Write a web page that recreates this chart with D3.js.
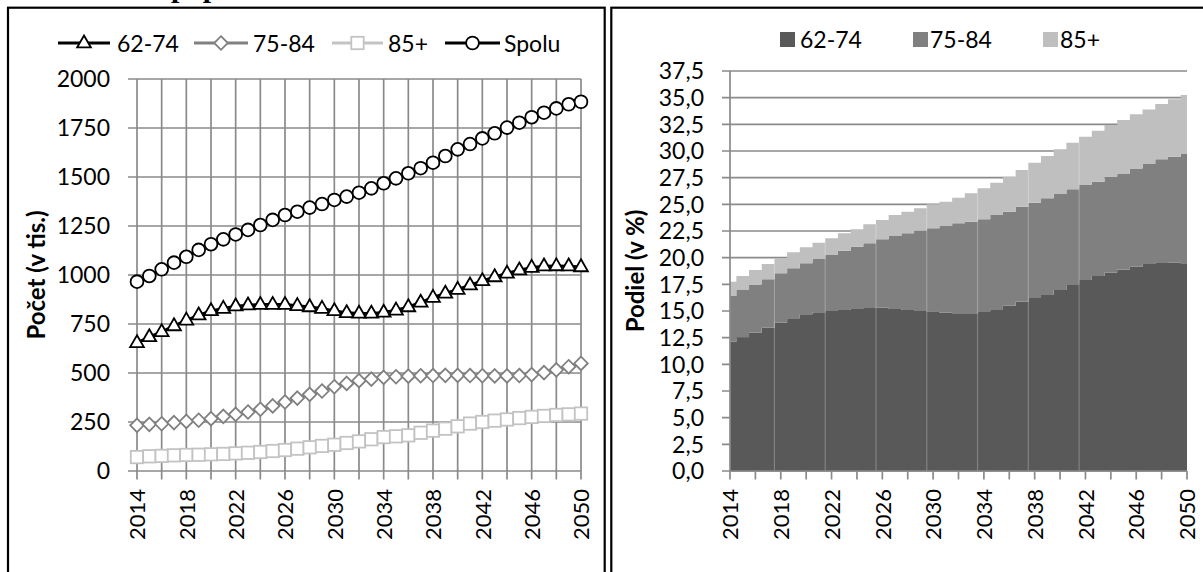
<!DOCTYPE html>
<html>
<head>
<meta charset="utf-8">
<script src="https://cdn.jsdelivr.net/npm/d3@7"></script>
<style>
  body { margin: 0; background: #fff; }
  svg { display: block; }
  text { font-family: Lato, "Open Sans", sans-serif; }
</style>
</head>
<body>
<svg id="chart" width="1203" height="572"></svg>
<script>
// ---------------- DATA ----------------
const years = [2014,2015,2016,2017,2018,2019,2020,2021,2022,2023,2024,2025,2026,2027,2028,2029,2030,2031,2032,2033,2034,2035,2036,2037,2038,2039,2040,2041,2042,2043,2044,2045,2046,2047,2048,2049,2050];
const xLabelYears = [2014,2018,2022,2026,2030,2034,2038,2042,2046,2050];
const xTickYears = [2014,2016,2018,2020,2022,2024,2026,2028,2030,2032,2034,2036,2038,2040,2042,2044,2046,2048,2050];
const yTicksLeft = [0,250,500,750,1000,1250,1500,1750,2000];
const yTicksRight = [0,2.5,5,7.5,10,12.5,15,17.5,20,22.5,25,27.5,30,32.5,35,37.5];
const lineSeriesNames = ["62-74","75-84","85+","Spolu"];
const areaSeriesNames = ["62-74","75-84","85+"];

// Left chart: count (thousands)
const count6274 = [655,685,711,741,770,796,818,830,842,847,850,850,850,844,838,830,818,808,805,805,810,821,838,861,886,907,927,949,971,991,1009,1026,1039,1046,1047,1046,1042];
const count7584 = [233,238,241,247,253,259,267,279,289,301,315,332,352,372,391,408,430,447,461,469,478,481,484,486,487,488,488,487,486,485,485,487,492,502,516,532,549];
const count85   = [71,75,77,80,82,83,85,87,90,93,97,102,107,114,121,128,134,143,151,162,173,177,182,195,206,216,228,242,250,257,263,270,276,281,286,289,293];
const countTotal = [966,995,1029,1063,1093,1128,1157,1182,1207,1230,1255,1281,1306,1323,1344,1362,1383,1400,1420,1442,1468,1493,1519,1545,1573,1607,1641,1668,1697,1723,1752,1777,1805,1828,1850,1871,1884];

// Right chart: share (%)
const share6274 = [12.12,12.53,12.97,13.44,13.90,14.31,14.69,14.88,15.00,15.09,15.19,15.28,15.31,15.19,15.09,15.00,14.94,14.84,14.78,14.78,14.90,15.16,15.50,15.87,16.28,16.50,16.97,17.44,17.90,18.28,18.60,18.90,19.15,19.40,19.56,19.53,19.47];
const share7584 = [4.28,4.44,4.47,4.53,4.63,4.69,4.78,5.00,5.25,5.56,5.84,6.06,6.41,6.84,7.19,7.53,7.81,8.13,8.44,8.59,8.70,8.84,8.81,8.91,8.87,9.06,9.00,8.97,8.91,8.84,8.99,9.00,9.22,9.38,9.66,9.94,10.25];
const share85   = [1.35,1.31,1.40,1.43,1.41,1.50,1.50,1.52,1.56,1.63,1.63,1.79,1.81,1.97,2.03,2.10,2.25,2.28,2.40,2.66,2.90,3.03,3.28,3.44,3.75,3.97,4.19,4.37,4.53,4.78,4.85,5.00,5.07,5.12,5.18,5.38,5.53];
const seamYears = [2017,2021,2025,2029,2033,2037,2041];

// ---------------- SETUP ----------------
const svg = d3.select("#chart");
const GRID = "#8a8a8a";
const FS = 23;

// title (mostly cut off at top)
svg.append("text").attr("x", 166).attr("y", -3.5).attr("text-anchor", "end")
  .style("font-family", "'Liberation Serif', serif").style("font-weight", "bold").style("font-size", "30px")
  .text("Graf 1 Staršia");
svg.append("text").attr("x", 171).attr("y", -3.5)
  .style("font-family", "'Liberation Serif', serif").style("font-weight", "bold").style("font-size", "30px")
  .text("populácia");

// panel borders
svg.append("rect").attr("x", 8).attr("y", 7.7).attr("width", 596.7).attr("height", 620)
  .attr("fill", "none").attr("stroke", "#000").attr("stroke-width", 2.2);
svg.append("rect").attr("x", 611.3).attr("y", 7.7).attr("width", 620).attr("height", 620)
  .attr("fill", "none").attr("stroke", "#000").attr("stroke-width", 2.2);

// ---------------- LEFT CHART ----------------
const xL = d3.scaleLinear().domain([2014, 2050]).range([137, 581]);
const yL = d3.scaleLinear().domain([0, 2000]).range([471, 79]);
const gL = svg.append("g");

// horizontal grid + ticks
gL.selectAll(".hg").data(yTicksLeft).enter().append("line")
  .attr("x1", 128).attr("x2", xL(2050)).attr("y1", d => yL(d)).attr("y2", d => yL(d))
  .attr("stroke", GRID).attr("stroke-width", 1.7);
// vertical grid + ticks
gL.selectAll(".vg").data(xTickYears).enter().append("line")
  .attr("x1", d => xL(d)).attr("x2", d => xL(d)).attr("y1", yL(2000)).attr("y2", yL(0) + 8.5)
  .attr("stroke", GRID).attr("stroke-width", 1.7);

// y labels
gL.selectAll(".yl").data(yTicksLeft).enter().append("text")
  .attr("x", 110).attr("y", d => yL(d) + 8.2).attr("text-anchor", "end")
  .style("font-size", FS + "px").text(d => d);
// x labels
gL.selectAll(".xl").data(xLabelYears).enter().append("text")
  .attr("transform", d => `translate(${xL(d) + 8.2},489) rotate(-90)`)
  .attr("text-anchor", "end").style("font-size", "22px").text(d => d);
// axis title
gL.append("text").attr("transform", `translate(45,${(yL(0) + yL(2000)) / 2}) rotate(-90)`)
  .attr("text-anchor", "middle").style("font-size", "24px").style("font-weight", "bold")
  .text("Počet (v tis.)");

const styles = [
  { name: lineSeriesNames[0], data: count6274, color: "#000", marker: "triangle", mcolor: "#000" },
  { name: lineSeriesNames[1], data: count7584, color: "#808080", marker: "diamond", mcolor: "#808080" },
  { name: lineSeriesNames[2], data: count85, color: "#c3c3c3", marker: "square", mcolor: "#c3c3c3" },
  { name: lineSeriesNames[3], data: countTotal, color: "#000", marker: "circle", mcolor: "#000" }
];

function drawMarker(g, type, x, y, color) {
  if (type === "circle") {
    g.append("circle").attr("cx", x).attr("cy", y).attr("r", 6.4)
      .attr("fill", "#fff").attr("stroke", color).attr("stroke-width", 1.8);
  } else if (type === "square") {
    g.append("rect").attr("x", x - 6.2).attr("y", y - 6.2).attr("width", 12.4).attr("height", 12.4)
      .attr("fill", "#fff").attr("stroke", color).attr("stroke-width", 1.8);
  } else if (type === "diamond") {
    const h = 6.8;
    g.append("path").attr("d", `M${x},${y - h}L${x + h},${y}L${x},${y + h}L${x - h},${y}Z`)
      .attr("fill", "#fff").attr("stroke", color).attr("stroke-width", 1.8);
  } else if (type === "triangle") {
    g.append("path").attr("d", d3.symbol(d3.symbolTriangle, 82)())
      .attr("transform", `translate(${x},${y + 0.5})`)
      .attr("fill", "#fff").attr("stroke", color).attr("stroke-width", 1.8);
  }
}

const line = d3.line().x((d, i) => xL(years[i])).y(d => yL(d));
styles.forEach(s => {
  const g = gL.append("g");
  g.append("path").attr("d", line(s.data)).attr("fill", "none")
    .attr("stroke", s.color).attr("stroke-width", 2.6);
  s.data.forEach((v, i) => drawMarker(g, s.marker, xL(years[i]), yL(v), s.mcolor));
});

// left legend
const legL = [
  { x0: 58, x1: 110, tx: 117 },
  { x0: 194, x1: 248, tx: 253 },
  { x0: 332, x1: 383, tx: 388 },
  { x0: 445, x1: 500, tx: 504 }
];
styles.forEach((s, i) => {
  const L = legL[i];
  const g = gL.append("g");
  g.append("line").attr("x1", L.x0).attr("x2", L.x1).attr("y1", 43).attr("y2", 43)
    .attr("stroke", s.color).attr("stroke-width", 3);
  drawMarker(g, s.marker, (L.x0 + L.x1) / 2, 43, s.mcolor);
  g.append("text").attr("x", L.tx).attr("y", 51.5).style("font-size", FS + "px").text(s.name);
});

// ---------------- RIGHT CHART ----------------
const xR = d3.scaleLinear().domain([2014, 2050]).range([730, 1187]);
const yR = d3.scaleLinear().domain([0, 37.5]).range([471, 71]);
const gR = svg.append("g");
const fmt = v => d3.format(".1f")(v).replace(".", ",");

gR.selectAll(".hg").data(yTicksRight).enter().append("line")
  .attr("x1", 722).attr("x2", xR(2050)).attr("y1", d => yR(d)).attr("y2", d => yR(d))
  .attr("stroke", GRID).attr("stroke-width", 1.7);

const table = years.map((y, i) => ({ year: y, a: share6274[i], b: share7584[i], c: share85[i] }));
const stacked = d3.stack().keys(["a", "b", "c"])(table);
const areaColors = ["#595959", "#808080", "#bfbfbf"];
const area = d3.area().x(d => xR(d.data.year)).y0(d => yR(d[0])).y1(d => yR(d[1])).curve(d3.curveStep);
gR.selectAll(".ar").data(stacked).enter().append("path")
  .attr("d", area).attr("fill", (d, i) => areaColors[i]);

// light seams inside the columns
seamYears.forEach(yr => {
  const i = years.indexOf(yr);
  const top = Math.min(table[i].a + table[i].b + table[i].c, table[i + 1].a + table[i + 1].b + table[i + 1].c);
  gR.append("line").attr("x1", xR(yr + 0.5)).attr("x2", xR(yr + 0.5))
    .attr("y1", yR(top)).attr("y2", yR(0))
    .attr("stroke", "#fff").attr("stroke-opacity", 0.25).attr("stroke-width", 1.2);
});

// axes
gR.append("line").attr("x1", xR(2014)).attr("x2", xR(2014)).attr("y1", yR(37.5)).attr("y2", yR(0))
  .attr("stroke", GRID).attr("stroke-width", 1.7);
gR.append("line").attr("x1", xR(2014)).attr("x2", xR(2050)).attr("y1", yR(0)).attr("y2", yR(0))
  .attr("stroke", GRID).attr("stroke-width", 1.7);
gR.selectAll(".xt").data(xTickYears).enter().append("line")
  .attr("x1", d => xR(d)).attr("x2", d => xR(d)).attr("y1", yR(0)).attr("y2", yR(0) + 8.5)
  .attr("stroke", GRID).attr("stroke-width", 1.7);

gR.selectAll(".yl").data(yTicksRight).enter().append("text")
  .attr("x", 704).attr("y", d => yR(d) + 8.2).attr("text-anchor", "end")
  .style("font-size", FS + "px").text(d => fmt(d));
gR.selectAll(".xl").data(xLabelYears).enter().append("text")
  .attr("transform", d => `translate(${xR(d) + 8.2},489) rotate(-90)`)
  .attr("text-anchor", "end").style("font-size", "22px").text(d => d);
gR.append("text").attr("transform", `translate(644,${(yR(0) + yR(37.5)) / 2}) rotate(-90)`)
  .attr("text-anchor", "middle").style("font-size", "24px").style("font-weight", "bold")
  .text("Podiel (v %)");

// right legend
const legR = [{ sx: 780, tx: 800 }, { sx: 913, tx: 930 }, { sx: 1043, tx: 1060 }];
areaSeriesNames.forEach((n, i) => {
  gR.append("rect").attr("x", legR[i].sx).attr("y", 32).attr("width", 15).attr("height", 15)
    .attr("fill", areaColors[i]);
  gR.append("text").attr("x", legR[i].tx).attr("y", 47.5).style("font-size", FS + "px").text(n);
});
</script>
</body>
</html>
